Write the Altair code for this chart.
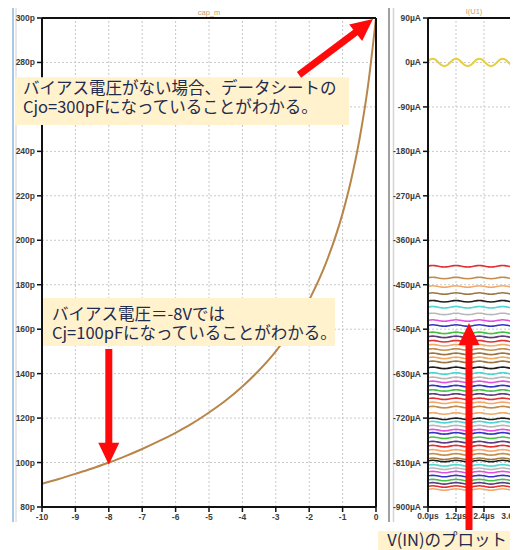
import altair as alt
import pandas as pd

# ---------------- left panel: cap_m versus bias voltage ----------------
bias_v = [-10, -9.5, -9, -8.5, -8, -7.5, -7, -6.5, -6, -5.5, -5, -4.5, -4,
          -3.5, -3, -2.5, -2, -1.5, -1, -0.75, -0.5, -0.25, 0]
cap_pf = [90.5, 92.6, 94.9, 97.3, 100.0, 102.9, 106.1, 109.6, 113.4, 117.6,
          122.5, 127.9, 134.2, 141.5, 150.0, 160.4, 173.2, 189.7, 212.1,
          226.8, 245.0, 268.3, 300.0]
left_y_ticks = [80, 100, 120, 140, 160, 180, 200, 220, 240, 260, 280, 300]
left_x_ticks = [-10, -9, -8, -7, -6, -5, -4, -3, -2, -1, 0]

# ---------------- right panel: I(U1) versus time ----------------
time_us = [0.0, 0.1, 0.2, 0.3, 0.4, 0.5, 0.6, 0.7, 0.8, 0.9,
           1.0, 1.1, 1.2, 1.3, 1.4, 1.5, 1.6, 1.7, 1.8, 1.9,
           2.0, 2.1, 2.2, 2.3, 2.4, 2.5, 2.6, 2.7, 2.8, 2.9,
           3.0, 3.1, 3.2, 3.3, 3.4, 3.5, 3.6, 3.7, 3.8, 3.9]
vin_ua = [2.3, 6.1, 7.5, 6.1, 2.3, -2.3, -6.1, -7.5, -6.1, -2.3,
          2.3, 6.1, 7.5, 6.1, 2.3, -2.3, -6.1, -7.5, -6.1, -2.3,
          2.3, 6.1, 7.5, 6.1, 2.3, -2.3, -6.1, -7.5, -6.1, -2.3,
          2.3, 6.1, 7.5, 6.1, 2.3, -2.3, -6.1, -7.5, -6.1, -2.3]
ripple_ua = [0.5, 1.2, 1.5, 1.2, 0.5, -0.5, -1.2, -1.5, -1.2, -0.5,
             0.5, 1.2, 1.5, 1.2, 0.5, -0.5, -1.2, -1.5, -1.2, -0.5,
             0.5, 1.2, 1.5, 1.2, 0.5, -0.5, -1.2, -1.5, -1.2, -0.5,
             0.5, 1.2, 1.5, 1.2, 0.5, -0.5, -1.2, -1.5, -1.2, -0.5]
step_levels_ua = [-412.6, -436.3, -453.7, -467.8, -483.4, -495.6, -509.1, -522.5,
                  -532.6, -547.5, -555.6, -564.3, -572.4, -581.1, -590.0, -598.1,
                  -606.2, -618.3, -629.7, -638.6, -646.6, -655.3, -664.0, -672.1,
                  -681.0, -689.1, -697.8, -710.6, -721.5, -728.2, -736.2, -744.3,
                  -751.0, -759.9, -768.6, -776.7, -785.4, -793.5, -802.4, -807.0,
                  -815.7, -822.6, -829.3, -837.4, -845.5, -852.1, -858.6, -864.7]
step_colors = ["red", "tan", "orange", "brown", "black", "cyan", "gray", "magenta",
               "blue", "green", "purple", "red", "orange", "tan", "brown", "orange",
               "brown", "black", "cyan", "gray", "magenta", "blue", "green", "purple",
               "red", "orange", "tan", "orange", "black", "cyan", "gray", "magenta",
               "blue", "green", "purple", "red", "orange", "tan", "brown", "black",
               "cyan", "gray", "magenta", "blue", "green", "purple", "red", "orange"]
right_y_ticks = [90, 0, -90, -180, -270, -360, -450, -540, -630, -720, -810, -900]
right_x_ticks = [0.0, 1.2, 2.4, 3.6]
right_x_labels = ["0.0µs", "1.2µs", "2.4µs", "3.6µs"]

palette = {"red": "#e03030", "tan": "#c48c4c", "orange": "#f2a868", "brown": "#9c7640",
           "black": "#1e1e1e", "cyan": "#4fd6d0", "gray": "#b8b8b8", "magenta": "#e050e0",
           "blue": "#3434c4", "green": "#44c044", "purple": "#5c3c7c"}

# ---------------- scales ----------------
XL = alt.Scale(domain=[-10, 0], range=[0, 334], nice=False, zero=False)
YL = alt.Scale(domain=[80, 300], range=[489, 0], nice=False, zero=False)
XR = alt.Scale(domain=[0, 3.6], range=[386, 470], nice=False, zero=False)
YR = alt.Scale(domain=[-900, 90], range=[489, 0], nice=False, zero=False)

TICKFONT = dict(font="Liberation Sans", fontWeight="bold", fontSize=8.5, color="#3c3c3c")
JPFONT = dict(font="Noto Sans CJK JP", fontSize=16.5, color="#1f2b4f")
GRID = dict(color="#c8c8c8", strokeWidth=1, strokeDash=[2, 2])
RED = "#ff0a0a"
HEAD = "M 0 0 L 1 2.1 L -1 2.1 Z"


def segs(rows, xs, ys, **mk):
    df = pd.DataFrame(rows, columns=["x", "x2", "y", "y2"])
    return alt.Chart(df).mark_rule(**mk).encode(
        x=alt.X("x:Q", scale=xs, axis=None), x2="x2:Q",
        y=alt.Y("y:Q", scale=ys, axis=None), y2="y2:Q")


# ================= left group =================
lx_len = 5 / 33.4
left_grid_v = segs([(v, v, 80, 300) for v in left_x_ticks[1:-1]], XL, YL, **GRID)
left_grid_h = segs([(-10, 0, c, c) for c in left_y_ticks[1:-1]], XL, YL, **GRID)
left_frame = segs([(-10, 0, 80, 80), (-10, 0, 300, 300), (-10, -10, 80, 300), (0, 0, 80, 300)],
                  XL, YL, color="#111111", strokeWidth=2)
left_yticks = segs([(-10 - lx_len, -10, c, c) for c in left_y_ticks], XL, YL,
                   color="#111111", strokeWidth=1.5)
ly_len = 5 / 2.2227
left_xticks = segs([(v, v, 80 - ly_len, 80) for v in left_x_ticks], XL, YL,
                   color="#111111", strokeWidth=1.5)
left_ylab = alt.Chart(pd.DataFrame({"c": left_y_ticks, "lab": [f"{c}p" for c in left_y_ticks]})).mark_text(
    align="right", baseline="middle", dx=-7, **TICKFONT).encode(
    x=alt.X("xx:Q", scale=XL, axis=None),
    y=alt.Y("c:Q", scale=YL, axis=None), text="lab:N").transform_calculate(xx="-10")
left_xlab = alt.Chart(pd.DataFrame({"v": left_x_ticks, "lab": [str(v) for v in left_x_ticks]})).mark_text(
    align="center", baseline="middle", dy=10, **TICKFONT).encode(
    x=alt.X("v:Q", scale=XL, axis=None),
    y=alt.Y("yy:Q", scale=YL, axis=None), text="lab:N").transform_calculate(yy="80")
left_title = alt.Chart(pd.DataFrame({"x": [-5], "y": [300], "lab": ["cap_m"]})).mark_text(
    align="center", baseline="middle", dy=-5, font="Liberation Sans", fontSize=7.5,
    color="#c8a070").encode(
    x=alt.X("x:Q", scale=XL, axis=None), y=alt.Y("y:Q", scale=YL, axis=None), text="lab:N")
curve = alt.Chart(pd.DataFrame({"v": bias_v, "c": cap_pf})).mark_line(
    color="#b8864b", strokeWidth=2, interpolate="monotone").encode(
    x=alt.X("v:Q", scale=XL, axis=None), y=alt.Y("c:Q", scale=YL, axis=None))

box_df = pd.DataFrame({"x": [-10.81, -9.97], "x2": [-0.81, -1.23],
                       "y": [273.3, 174.0], "y2": [251.9, 152.4]})
boxes_left = alt.Chart(box_df).mark_rect(color="#fff2cc").encode(
    x=alt.X("x:Q", scale=XL, axis=None), x2="x2:Q",
    y=alt.Y("y:Q", scale=YL, axis=None), y2="y2:Q")
note_df = pd.DataFrame({
    "x": [-10.57, -9.70],
    "y": [268.0, 166.3],
    "txt": ["バイアス電圧がない場合、データシートの\nCjo=300pFになっていることがわかる。",
            "バイアス電圧＝-8Vでは\nCj=100pFになっていることがわかる。"]})
notes_left = alt.Chart(note_df).mark_text(align="left", baseline="middle", lineBreak="\n",
                                          lineHeight=19, **JPFONT).encode(
    x=alt.X("x:Q", scale=XL, axis=None), y=alt.Y("y:Q", scale=YL, axis=None), text="txt:N")

shafts_left = segs([(-2.305, -0.347, 274.4, 296.5), (-8.0, -8.0, 151.1, 104.0)], XL, YL,
                   color=RED, strokeWidth=7)
head1 = alt.Chart(pd.DataFrame({"x": [-0.09], "y": [299.55]})).mark_point(
    shape=HEAD, size=441, filled=True, opacity=1, color=RED, angle=51.8).encode(
    x=alt.X("x:Q", scale=XL, axis=None), y=alt.Y("y:Q", scale=YL, axis=None))
head2 = alt.Chart(pd.DataFrame({"x": [-8.0], "y": [99.0]})).mark_point(
    shape=HEAD, size=441, filled=True, opacity=1, color=RED, angle=180).encode(
    x=alt.X("x:Q", scale=XL, axis=None), y=alt.Y("y:Q", scale=YL, axis=None))

# window frame decorations (pixel positions relative to plot origin)
one = pd.DataFrame({"a": [0]})
deco = alt.layer(
    alt.Chart(one).mark_rule(color="#a8c8e8", strokeWidth=2).encode(
        x=alt.value(-29), y=alt.value(-10), y2=alt.value(504)),
    alt.Chart(one).mark_rule(color="#d0d0d0", strokeWidth=1).encode(
        x=alt.value(-26), y=alt.value(-10), y2=alt.value(504)),
    alt.Chart(one).mark_rule(color="#a0a0a0", strokeWidth=2).encode(
        x=alt.value(347), y=alt.value(-10), y2=alt.value(504)),
    alt.Chart(one).mark_rule(color="#d4d4d4", strokeWidth=1.5).encode(
        x=alt.value(351.5), y=alt.value(-10), y2=alt.value(504)),
)

left = alt.layer(left_grid_v, left_grid_h, curve, left_frame, left_yticks, left_xticks,
                 left_ylab, left_xlab, left_title, boxes_left, notes_left,
                 shafts_left, head1, head2)

# ================= right group =================
rx_len = 5 / 23.33
right_grid_h = segs([(0, 3.9, i, i) for i in right_y_ticks[1:-1]], XR, YR, **GRID)
right_grid_v = segs([(t, t, -900, 90) for t in right_x_ticks[1:]], XR, YR, **GRID)
right_frame = segs([(0, 0, -900, 90), (0, 3.9, 90, 90), (0, 3.9, -900, -900)], XR, YR,
                   color="#111111", strokeWidth=2)
right_yticks = segs([(-rx_len, 0, i, i) for i in right_y_ticks], XR, YR,
                    color="#111111", strokeWidth=1.5)
ry_len = 5 / 0.49394
right_xticks = segs([(t, t, -900 - ry_len, -900) for t in right_x_ticks], XR, YR,
                    color="#111111", strokeWidth=1.5)
right_ylab = alt.Chart(pd.DataFrame({"i": right_y_ticks,
                                     "lab": [f"{i}µA" for i in right_y_ticks]})).mark_text(
    align="right", baseline="middle", dx=-7, **TICKFONT).encode(
    x=alt.X("xx:Q", scale=XR, axis=None), y=alt.Y("i:Q", scale=YR, axis=None),
    text="lab:N").transform_calculate(xx="0")
right_xlab = alt.Chart(pd.DataFrame({"t": right_x_ticks, "lab": right_x_labels})).mark_text(
    align="center", baseline="middle", dy=9, **TICKFONT).encode(
    x=alt.X("t:Q", scale=XR, axis=None), y=alt.Y("yy:Q", scale=YR, axis=None),
    text="lab:N").transform_calculate(yy="-900")
right_title = alt.Chart(pd.DataFrame({"x": [1.97], "y": [90], "lab": ["I(U1)"]})).mark_text(
    align="center", baseline="middle", dy=-6, font="Liberation Sans", fontSize=7.5,
    color="#c8a070").encode(
    x=alt.X("x:Q", scale=XR, axis=None), y=alt.Y("y:Q", scale=YR, axis=None), text="lab:N")

rows = []
ids = []
for k, lvl in enumerate(step_levels_ua):
    lid = f"s{k:02d}"
    ids.append(lid)
    for t, r in zip(time_us, ripple_ua):
        rows.append({"line": lid, "t": t, "i": lvl + r})
steps = alt.Chart(pd.DataFrame(rows)).mark_line(strokeWidth=1.6, interpolate="monotone").encode(
    x=alt.X("t:Q", scale=XR, axis=None), y=alt.Y("i:Q", scale=YR, axis=None),
    color=alt.Color("line:N", scale=alt.Scale(domain=ids, range=[palette[c] for c in step_colors]),
                    legend=None))
vin = alt.Chart(pd.DataFrame({"t": time_us, "i": vin_ua})).mark_line(
    color="#e6cf3a", strokeWidth=2, interpolate="monotone").encode(
    x=alt.X("t:Q", scale=XR, axis=None), y=alt.Y("i:Q", scale=YR, axis=None))

box3 = alt.Chart(pd.DataFrame({"x": [-2.14], "x2": [3.64], "y": [-948.6], "y2": [-995.0]})).mark_rect(
    color="#fff2cc").encode(
    x=alt.X("x:Q", scale=XR, axis=None), x2="x2:Q",
    y=alt.Y("y:Q", scale=YR, axis=None), y2="y2:Q")
note3 = alt.Chart(pd.DataFrame({"x": [-1.75], "y": [-968.8], "txt": ["V(IN)のプロット"]})).mark_text(
    align="left", baseline="middle", **JPFONT).encode(
    x=alt.X("x:Q", scale=XR, axis=None), y=alt.Y("y:Q", scale=YR, axis=None), text="txt:N")
shaft3 = segs([(1.757, 1.757, -946.6, -549.8)], XR, YR, color=RED, strokeWidth=7)
head3 = alt.Chart(pd.DataFrame({"x": [1.757], "y": [-527.5]})).mark_point(
    shape=HEAD, size=441, filled=True, opacity=1, color=RED, angle=0).encode(
    x=alt.X("x:Q", scale=XR, axis=None), y=alt.Y("y:Q", scale=YR, axis=None))

right = alt.layer(right_grid_h, right_grid_v, steps, vin, right_frame, right_yticks,
                  right_xticks, right_ylab, right_xlab, right_title, box3, note3, shaft3, head3)

chart = alt.layer(deco, left, right).resolve_scale(
    x="independent", y="independent", color="independent"
).properties(
    width=468, height=532,
    padding={"left": 34, "top": 10, "right": 0, "bottom": 0},
    autosize=alt.AutoSizeParams(type="none"),
    background="white",
).configure_view(stroke=None)

chart.save("out.html", embed_options={"renderer": "svg", "actions": False})
